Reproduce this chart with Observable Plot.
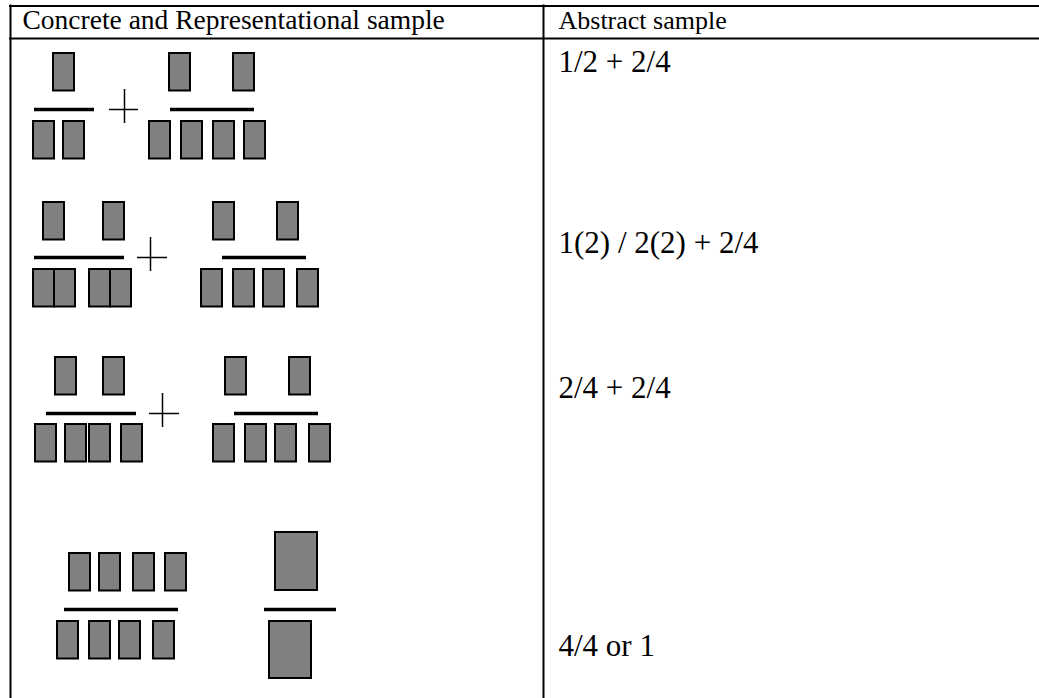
<!DOCTYPE html>
<html>
<head>
<meta charset="utf-8">
<script src="https://cdn.jsdelivr.net/npm/d3@7"></script>
<script src="https://cdn.jsdelivr.net/npm/@observablehq/plot@0.6"></script>
<style>
  html, body { margin: 0; padding: 0; background: #fff; }
  #chart svg { display: block; }
</style>
</head>
<body>
<div id="chart"></div>
<script>
// ---- text content ----
const headers = ["Concrete and Representational sample", "Abstract sample"];
const abstractSamples = ["1/2 + 2/4", "1(2) / 2(2) + 2/4", "2/4 + 2/4", "4/4 or 1"];

// ---- step rows: fraction-bar level, numerator / denominator tile tops ----
const steps = [1, 2, 3, 4];
const barLevels = [109, 257, 413, 609];
const numeratorTops = [53, 202, 357, 553];
const denominatorTops = [121, 269, 424, 621];
const textBaselines = [71, 252, 397, 655];

// ---- small tiles (left edges) per step ----
const numeratorTiles = [
  [53, 169, 233],
  [43, 103, 213, 277],
  [55, 103, 225, 289],
  [69, 99, 133, 165]
];
const denominatorTiles = [
  [33, 63, 149, 181, 213, 244],
  [33, 54, 89, 110, 201, 233, 263, 297],
  [35, 65, 89, 121, 213, 245, 275, 309],
  [57, 89, 119, 153]
];
// whole-unit tiles in step 4: [x1, x2, y1, y2]
const wholeTiles = [[275, 317, 532, 590], [269, 311, 621, 678]];

// fraction bars per step: [x1, x2]
const fractionBars = [
  [[34, 94], [170, 254]],
  [[34, 124], [222, 306]],
  [[46, 136], [234, 318]],
  [[64, 178], [264, 336]]
];
// plus signs per step
const plusSigns = [
  {step: 1, x1: 109, x2: 138, xc: 124, y1: 89, y2: 123},
  {step: 2, x1: 137, x2: 167, xc: 150, y1: 237, y2: 271},
  {step: 3, x1: 149, x2: 179, xc: 162, y1: 393, y2: 427}
];

// ---- table grid ----
const gridRows = [5.5, 38];
const gridCols = [10, 543];

// ---- build tables for the marks ----
const TW = 21, TH = 37.5;
const tiles = [];
steps.forEach((s, i) => {
  numeratorTiles[i].forEach(x => tiles.push({x1: x, x2: x + TW, y1: numeratorTops[i], y2: numeratorTops[i] + TH}));
  denominatorTiles[i].forEach(x => tiles.push({x1: x, x2: x + TW, y1: denominatorTops[i], y2: denominatorTops[i] + TH}));
});
wholeTiles.forEach(([x1, x2, y1, y2]) => tiles.push({x1, x2, y1, y2}));

const bars = [];
steps.forEach((s, i) => fractionBars[i].forEach(([x1, x2]) => bars.push({x1, x2, y: barLevels[i]})));
const plusH = plusSigns.map(p => ({x1: p.x1, x2: p.x2, y: barLevels[p.step - 1]}));
const plusV = plusSigns.map(p => ({x: p.xc, y1: p.y1, y2: p.y2}));

const headerData = headers.map((t, i) => ({text: t, x: i === 0 ? 22 : 558, y: 28, size: i === 0 ? 27.5 : 26}));
const bodyData = abstractSamples.map((t, i) => ({text: t, x: 558, y: textBaselines[i]}));

const W = 1039, H = 698;
const chart = Plot.plot({
  width: W, height: H,
  margin: 0,
  x: {domain: [0, W], range: [0, W], axis: null},
  y: {domain: [0, H], range: [0, H], axis: null},
  style: {background: "#fff", fontFamily: "'Liberation Serif', 'Times New Roman', serif"},
  marks: [
    Plot.ruleY(gridRows, {y: d => d, x1: 9, x2: W, stroke: "#000", strokeWidth: 2}),
    Plot.ruleX(gridCols, {x: d => d, y1: 4.5, y2: H, stroke: "#000", strokeWidth: 2}),
    Plot.rect(tiles, {x1: "x1", x2: "x2", y1: "y1", y2: "y2", fill: "#808080", stroke: "#000", strokeWidth: 2}),
    Plot.ruleY(bars, {y: "y", x1: "x1", x2: "x2", stroke: "#000", strokeWidth: 3.5}),
    Plot.ruleY(plusH, {y: "y", x1: "x1", x2: "x2", stroke: "#000", strokeWidth: 1.5}),
    Plot.ruleX(plusV, {x: "x", y1: "y1", y2: "y2", stroke: "#000", strokeWidth: 1.5}),
    Plot.text(headerData.slice(0, 1), {x: "x", y: "y", text: "text", textAnchor: "start", lineAnchor: "bottom", fontSize: 27.5, fill: "#000"}),
    Plot.text(headerData.slice(1), {x: "x", y: "y", text: "text", textAnchor: "start", lineAnchor: "bottom", fontSize: 26, fill: "#000"}),
    Plot.text(bodyData, {x: "x", y: "y", text: "text", textAnchor: "start", lineAnchor: "bottom", fontSize: 31, fill: "#000"})
  ]
});
document.getElementById("chart").appendChild(chart);
</script>
</body>
</html>
